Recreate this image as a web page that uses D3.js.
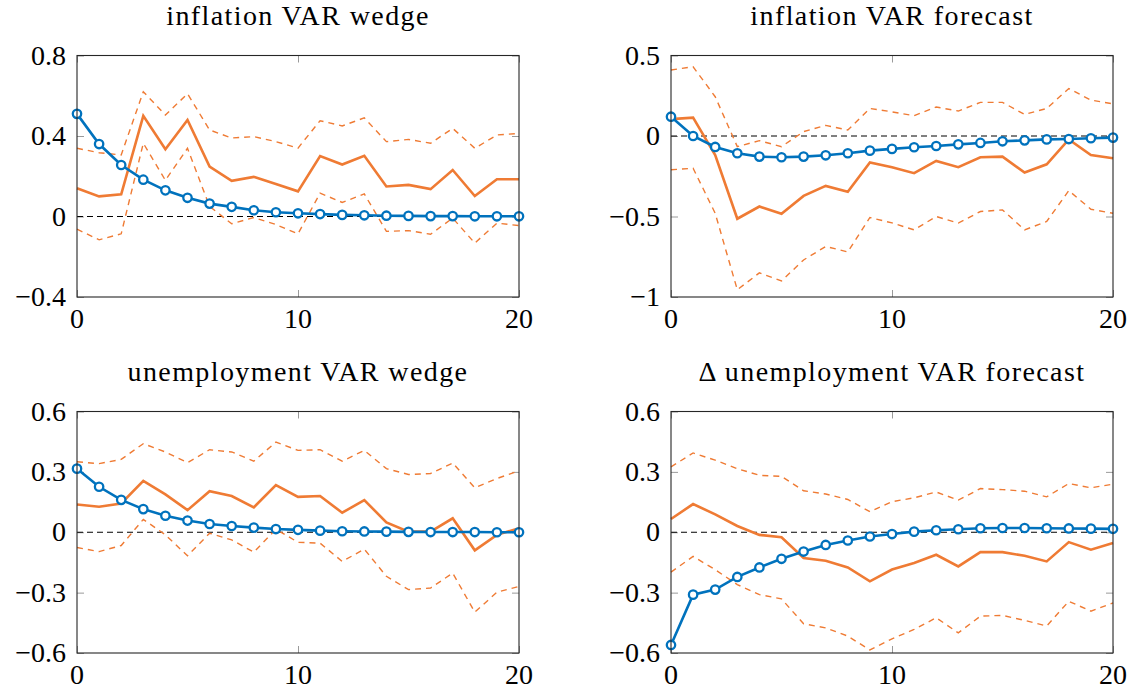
<!DOCTYPE html>
<html>
<head>
<meta charset="utf-8">
<script src="https://cdn.jsdelivr.net/npm/d3@7"></script>
<style>
  body { margin: 0; background: #fff; }
  text { font-family: "Liberation Serif", "DejaVu Serif", serif; fill: #000; }
</style>
</head>
<body>
<div id="chart"></div>
<script>
const horizons = d3.range(0, 21);

// inflation VAR wedge
const infWedgeBlue = [0.51, 0.36, 0.256, 0.183, 0.13, 0.093, 0.064, 0.048, 0.031, 0.021, 0.016, 0.012, 0.008, 0.006, 0.004, 0.003, 0.002, 0.002, 0.001, 0.001, 0.001];
const infWedgeMid = [0.14, 0.10, 0.11, 0.50, 0.334, 0.48, 0.248, 0.177, 0.197, 0.162, 0.125, 0.30, 0.258, 0.302, 0.149, 0.157, 0.136, 0.231, 0.102, 0.185, 0.185];
const infWedgeHi = [0.339, 0.317, 0.306, 0.62, 0.504, 0.61, 0.43, 0.39, 0.397, 0.372, 0.34, 0.476, 0.45, 0.49, 0.372, 0.383, 0.364, 0.438, 0.339, 0.405, 0.413];
const infWedgeLo = [-0.063, -0.116, -0.086, 0.364, 0.18, 0.339, 0.05, -0.036, -0.005, -0.04, -0.086, 0.116, 0.07, 0.112, -0.074, -0.07, -0.088, -0.008, -0.132, -0.033, -0.045];

// inflation VAR forecast
const infFcBlue = [0.12, 0.0, -0.068, -0.107, -0.128, -0.132, -0.128, -0.12, -0.107, -0.091, -0.08, -0.07, -0.062, -0.052, -0.043, -0.033, -0.027, -0.021, -0.019, -0.014, -0.01];
const infFcMid = [0.105, 0.114, -0.118, -0.514, -0.438, -0.483, -0.372, -0.31, -0.347, -0.165, -0.194, -0.231, -0.155, -0.194, -0.132, -0.128, -0.227, -0.176, -0.021, -0.118, -0.138];
const infFcHi = [0.41, 0.43, 0.244, -0.066, -0.029, -0.066, 0.027, 0.066, 0.037, 0.171, 0.15, 0.126, 0.18, 0.155, 0.209, 0.209, 0.134, 0.171, 0.295, 0.223, 0.2];
const infFcLo = [-0.21, -0.2, -0.48, -0.955, -0.85, -0.9, -0.77, -0.686, -0.72, -0.506, -0.54, -0.583, -0.5, -0.541, -0.469, -0.459, -0.583, -0.531, -0.339, -0.455, -0.48];

// unemployment VAR wedge
const unWedgeBlue = [0.316, 0.226, 0.161, 0.115, 0.082, 0.058, 0.041, 0.031, 0.023, 0.016, 0.012, 0.008, 0.005, 0.004, 0.003, 0.002, 0.001, 0.001, 0.001, 0.0, 0.0];
const unWedgeMid = [0.138, 0.127, 0.143, 0.255, 0.188, 0.11, 0.204, 0.18, 0.124, 0.234, 0.176, 0.18, 0.097, 0.16, 0.049, 0.003, 0.003, 0.069, -0.09, -0.013, 0.02];
const unWedgeHi = [0.35, 0.341, 0.362, 0.44, 0.399, 0.346, 0.41, 0.399, 0.353, 0.448, 0.407, 0.41, 0.353, 0.407, 0.316, 0.287, 0.292, 0.344, 0.221, 0.267, 0.305];
const unWedgeLo = [-0.076, -0.096, -0.066, 0.064, -0.013, -0.117, -0.005, -0.038, -0.099, 0.015, -0.05, -0.054, -0.145, -0.084, -0.219, -0.285, -0.277, -0.203, -0.397, -0.298, -0.269];

// delta unemployment VAR forecast
const unFcBlue = [-0.56, -0.31, -0.285, -0.222, -0.175, -0.132, -0.096, -0.063, -0.041, -0.021, -0.009, 0.003, 0.01, 0.015, 0.02, 0.021, 0.021, 0.02, 0.019, 0.018, 0.017];
const unFcMid = [0.066, 0.14, 0.089, 0.031, -0.013, -0.025, -0.128, -0.142, -0.175, -0.244, -0.185, -0.153, -0.112, -0.17, -0.099, -0.099, -0.117, -0.145, -0.049, -0.087, -0.054];
const unFcHi = [0.325, 0.394, 0.358, 0.316, 0.283, 0.278, 0.206, 0.19, 0.163, 0.102, 0.152, 0.171, 0.2, 0.16, 0.217, 0.212, 0.204, 0.176, 0.242, 0.221, 0.239];
const unFcLo = [-0.198, -0.12, -0.186, -0.26, -0.31, -0.331, -0.455, -0.475, -0.516, -0.585, -0.53, -0.483, -0.425, -0.5, -0.417, -0.413, -0.438, -0.466, -0.343, -0.392, -0.351];

const xTicks = [0, 10, 20];

const panels = [
  { title: "inflation VAR wedge", blue: infWedgeBlue, mid: infWedgeMid, hi: infWedgeHi, lo: infWedgeLo,
    yDomain: [-0.4, 0.8], yTicks: [-0.4, 0, 0.4, 0.8], left: 77, top: 55.5 },
  { title: "inflation VAR forecast", blue: infFcBlue, mid: infFcMid, hi: infFcHi, lo: infFcLo,
    yDomain: [-1, 0.5], yTicks: [-1, -0.5, 0, 0.5], left: 671, top: 55.5 },
  { title: "unemployment VAR wedge", blue: unWedgeBlue, mid: unWedgeMid, hi: unWedgeHi, lo: unWedgeLo,
    yDomain: [-0.6, 0.6], yTicks: [-0.6, -0.3, 0, 0.3, 0.6], left: 77, top: 411.5 },
  { title: "\u0394 unemployment VAR forecast", blue: unFcBlue, mid: unFcMid, hi: unFcHi, lo: unFcLo,
    yDomain: [-0.6, 0.6], yTicks: [-0.6, -0.3, 0, 0.3, 0.6], left: 671, top: 411.5 }
];

const W = 1133, H = 692;
const pw = 442, ph = 241.5;
const blue = "#0072BD", orange = "#EF7B34";

const svg = d3.select("#chart").append("svg")
  .attr("width", W).attr("height", H);

const fmt = d => {
  if (d === 0) return "0";
  const s = Math.abs(d) < 1 ? d3.format(".1f")(Math.abs(d)) : String(Math.abs(d));
  return (d < 0 ? "\u2212" : "") + s;
};

panels.forEach(p => {
  const g = svg.append("g").attr("transform", `translate(${p.left}, ${p.top})`);

  const xScale = d3.scaleLinear().domain([0, 20]).range([0, pw]);
  const yScale = d3.scaleLinear().domain(p.yDomain).range([ph, 0]);

  // inner ticks on all four sides (grey)
  const tickLen = 7;
  const tickCol = "#9a9a9a";
  g.append("g").call(d3.axisLeft(yScale).tickValues(p.yTicks).tickSize(-tickLen).tickFormat(""))
    .call(a => a.select(".domain").remove())
    .selectAll("line").attr("stroke", tickCol);
  g.append("g").attr("transform", `translate(${pw},0)`)
    .call(d3.axisRight(yScale).tickValues(p.yTicks).tickSize(-tickLen).tickFormat(""))
    .call(a => a.select(".domain").remove())
    .selectAll("line").attr("stroke", tickCol);
  g.append("g").attr("transform", `translate(0,${ph})`)
    .call(d3.axisBottom(xScale).tickValues(xTicks).tickSize(-tickLen).tickFormat(""))
    .call(a => a.select(".domain").remove())
    .selectAll("line").attr("stroke", tickCol);
  g.append("g")
    .call(d3.axisTop(xScale).tickValues(xTicks).tickSize(-tickLen).tickFormat(""))
    .call(a => a.select(".domain").remove())
    .selectAll("line").attr("stroke", tickCol);

  // tick labels
  g.selectAll(".ylab").data(p.yTicks).enter().append("text")
    .attr("x", -11).attr("y", d => yScale(d)).attr("dy", "0.33em")
    .attr("text-anchor", "end").style("font-size", "28px")
    .text(fmt);
  g.selectAll(".xlab").data(xTicks).enter().append("text")
    .attr("x", d => xScale(d)).attr("y", ph + 31)
    .attr("text-anchor", "middle").style("font-size", "28px")
    .text(d => d);

  // title
  g.append("text").attr("x", pw / 2).attr("y", -31)
    .attr("text-anchor", "middle").style("font-size", "28px")
    .style("letter-spacing", "1.4px")
    .text(p.title);

  // zero line
  g.append("line")
    .attr("x1", 0).attr("x2", pw).attr("y1", yScale(0)).attr("y2", yScale(0))
    .attr("stroke", "#000").attr("stroke-width", 1).attr("stroke-dasharray", "6,4");

  const line = d3.line().x((d, i) => xScale(horizons[i])).y(d => yScale(d));

  // confidence bands
  [p.hi, p.lo].forEach(s => {
    g.append("path").datum(s).attr("d", line)
      .attr("fill", "none").attr("stroke", orange).attr("stroke-width", 1.4)
      .attr("stroke-dasharray", "6,5");
  });

  // point estimate
  g.append("path").datum(p.mid).attr("d", line)
    .attr("fill", "none").attr("stroke", orange).attr("stroke-width", 2.6)
    .attr("stroke-linejoin", "miter");

  // model response
  g.append("path").datum(p.blue).attr("d", line)
    .attr("fill", "none").attr("stroke", blue).attr("stroke-width", 2.6);
  g.selectAll(".marker").data(p.blue).enter().append("circle")
    .attr("cx", (d, i) => xScale(horizons[i])).attr("cy", d => yScale(d))
    .attr("r", 4.2).attr("fill", "#fff").attr("stroke", blue).attr("stroke-width", 2.3);

  // frame
  g.append("rect").attr("x", 0).attr("y", 0).attr("width", pw).attr("height", ph)
    .attr("fill", "none").attr("stroke", "#262626").attr("stroke-width", 1.1);
});
</script>
</body>
</html>
